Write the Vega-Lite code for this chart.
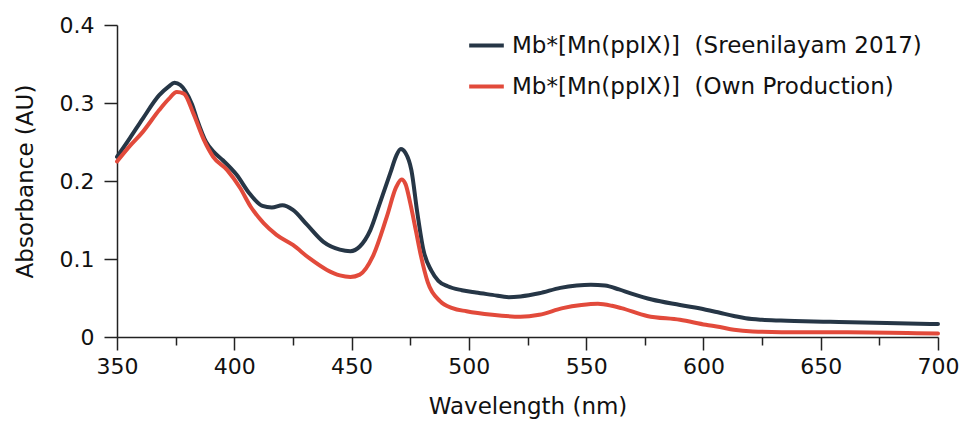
{
  "$schema": "https://vega.github.io/schema/vega-lite/v6.json",
  "autosize": {"type": "none"},
  "width": 821,
  "height": 312,
  "padding": {"left": 117, "top": 25, "right": 22, "bottom": 88},
  "background": "white",
  "config": {
    "view": {"stroke": null},
    "font": "DejaVu Sans",
    "axis": {"labelFont": "DejaVu Sans", "titleFont": "DejaVu Sans", "labelColor": "#111", "titleColor": "#111", "domainColor": "#222", "tickColor": "#222", "domainWidth": 1.5, "tickWidth": 1.5, "grid": false}
  },
  "datasets": {
    "spectra": [
      {"series": "A", "wl": 350, "abs": 0.231},
      {"series": "A", "wl": 355.5, "abs": 0.255},
      {"series": "A", "wl": 361, "abs": 0.280},
      {"series": "A", "wl": 368, "abs": 0.310},
      {"series": "A", "wl": 372, "abs": 0.321},
      {"series": "A", "wl": 374.5, "abs": 0.326},
      {"series": "A", "wl": 377, "abs": 0.323},
      {"series": "A", "wl": 379, "abs": 0.316},
      {"series": "A", "wl": 382, "abs": 0.298},
      {"series": "A", "wl": 384, "abs": 0.280},
      {"series": "A", "wl": 388, "abs": 0.250},
      {"series": "A", "wl": 391, "abs": 0.238},
      {"series": "A", "wl": 395, "abs": 0.227},
      {"series": "A", "wl": 401, "abs": 0.208},
      {"series": "A", "wl": 406.5, "abs": 0.184},
      {"series": "A", "wl": 412, "abs": 0.168},
      {"series": "A", "wl": 416, "abs": 0.166},
      {"series": "A", "wl": 420.5, "abs": 0.169},
      {"series": "A", "wl": 425, "abs": 0.163},
      {"series": "A", "wl": 431, "abs": 0.144},
      {"series": "A", "wl": 438, "abs": 0.122},
      {"series": "A", "wl": 445, "abs": 0.112},
      {"series": "A", "wl": 449.5, "abs": 0.110},
      {"series": "A", "wl": 453.5, "abs": 0.116},
      {"series": "A", "wl": 458, "abs": 0.137},
      {"series": "A", "wl": 462, "abs": 0.171},
      {"series": "A", "wl": 466.5, "abs": 0.210},
      {"series": "A", "wl": 469, "abs": 0.232},
      {"series": "A", "wl": 471, "abs": 0.241},
      {"series": "A", "wl": 473, "abs": 0.236},
      {"series": "A", "wl": 475.5, "abs": 0.214},
      {"series": "A", "wl": 478, "abs": 0.160},
      {"series": "A", "wl": 480.6, "abs": 0.112},
      {"series": "A", "wl": 484, "abs": 0.085},
      {"series": "A", "wl": 487, "abs": 0.072},
      {"series": "A", "wl": 491, "abs": 0.065},
      {"series": "A", "wl": 497, "abs": 0.060},
      {"series": "A", "wl": 503, "abs": 0.057},
      {"series": "A", "wl": 510, "abs": 0.054},
      {"series": "A", "wl": 517, "abs": 0.051},
      {"series": "A", "wl": 522, "abs": 0.052},
      {"series": "A", "wl": 530, "abs": 0.056},
      {"series": "A", "wl": 539, "abs": 0.063},
      {"series": "A", "wl": 546, "abs": 0.066},
      {"series": "A", "wl": 552, "abs": 0.067},
      {"series": "A", "wl": 558, "abs": 0.066},
      {"series": "A", "wl": 564, "abs": 0.061},
      {"series": "A", "wl": 569, "abs": 0.056},
      {"series": "A", "wl": 578, "abs": 0.048},
      {"series": "A", "wl": 590, "abs": 0.041},
      {"series": "A", "wl": 601, "abs": 0.035},
      {"series": "A", "wl": 607, "abs": 0.031},
      {"series": "A", "wl": 613, "abs": 0.027},
      {"series": "A", "wl": 618, "abs": 0.024},
      {"series": "A", "wl": 625, "abs": 0.022},
      {"series": "A", "wl": 633, "abs": 0.021},
      {"series": "A", "wl": 654, "abs": 0.0196},
      {"series": "A", "wl": 678, "abs": 0.018},
      {"series": "A", "wl": 700, "abs": 0.0166},
      {"series": "B", "wl": 350, "abs": 0.225},
      {"series": "B", "wl": 355.5, "abs": 0.245},
      {"series": "B", "wl": 361, "abs": 0.263},
      {"series": "B", "wl": 368, "abs": 0.291},
      {"series": "B", "wl": 372, "abs": 0.305},
      {"series": "B", "wl": 375.5, "abs": 0.314},
      {"series": "B", "wl": 378.5, "abs": 0.312},
      {"series": "B", "wl": 382.5, "abs": 0.287},
      {"series": "B", "wl": 387, "abs": 0.253},
      {"series": "B", "wl": 391, "abs": 0.231},
      {"series": "B", "wl": 397, "abs": 0.214},
      {"series": "B", "wl": 402.5, "abs": 0.191},
      {"series": "B", "wl": 407, "abs": 0.167},
      {"series": "B", "wl": 412.5, "abs": 0.146},
      {"series": "B", "wl": 418, "abs": 0.131},
      {"series": "B", "wl": 425, "abs": 0.118},
      {"series": "B", "wl": 432, "abs": 0.101},
      {"series": "B", "wl": 439.5, "abs": 0.086},
      {"series": "B", "wl": 445, "abs": 0.079},
      {"series": "B", "wl": 449.5, "abs": 0.077},
      {"series": "B", "wl": 453.5, "abs": 0.080},
      {"series": "B", "wl": 459, "abs": 0.103},
      {"series": "B", "wl": 465, "abs": 0.154},
      {"series": "B", "wl": 469, "abs": 0.192},
      {"series": "B", "wl": 471.3, "abs": 0.202},
      {"series": "B", "wl": 473, "abs": 0.196},
      {"series": "B", "wl": 475, "abs": 0.172},
      {"series": "B", "wl": 477.5, "abs": 0.135},
      {"series": "B", "wl": 479.5, "abs": 0.105},
      {"series": "B", "wl": 482.5, "abs": 0.070},
      {"series": "B", "wl": 487.7, "abs": 0.046},
      {"series": "B", "wl": 493, "abs": 0.037},
      {"series": "B", "wl": 499, "abs": 0.033},
      {"series": "B", "wl": 510, "abs": 0.0285},
      {"series": "B", "wl": 522, "abs": 0.026},
      {"series": "B", "wl": 530, "abs": 0.0285},
      {"series": "B", "wl": 540, "abs": 0.037},
      {"series": "B", "wl": 548, "abs": 0.041},
      {"series": "B", "wl": 555, "abs": 0.0426},
      {"series": "B", "wl": 561, "abs": 0.040},
      {"series": "B", "wl": 565, "abs": 0.037},
      {"series": "B", "wl": 576, "abs": 0.027},
      {"series": "B", "wl": 590, "abs": 0.022},
      {"series": "B", "wl": 601, "abs": 0.0157},
      {"series": "B", "wl": 607, "abs": 0.0128},
      {"series": "B", "wl": 613, "abs": 0.0093},
      {"series": "B", "wl": 621, "abs": 0.0072},
      {"series": "B", "wl": 642, "abs": 0.006},
      {"series": "B", "wl": 671, "abs": 0.0059},
      {"series": "B", "wl": 700, "abs": 0.0045}
    ]
  },
  "data": {"name": "spectra"},
  "mark": {"type": "line", "strokeWidth": 4, "interpolate": "monotone", "strokeCap": "round"},
  "encoding": {
    "x": {
      "field": "wl", "type": "quantitative",
      "scale": {"domain": [350, 700], "nice": false, "zero": false},
      "axis": {
        "title": "Wavelength (nm)", "titleFontSize": 23, "titleFontWeight": "normal", "titlePadding": 18,
        "values": [350, 375, 400, 425, 450, 475, 500, 525, 550, 575, 600, 625, 650, 675, 700],
        "labelExpr": "datum.value % 50 === 0 ? datum.label : ''",
        "labelFontSize": 22, "labelPadding": 6,
        "tickSize": {"condition": {"test": "datum.value % 50 === 0", "value": 13}, "value": 8},
        "labelFlush": false, "labelOverlap": false
      }
    },
    "y": {
      "field": "abs", "type": "quantitative",
      "scale": {"domain": [0, 0.4], "nice": false},
      "axis": {
        "title": "Absorbance (AU)", "titleFontSize": 23, "titleFontWeight": "normal", "titlePadding": 22,
        "values": [0, 0.1, 0.2, 0.3, 0.4],
        "labelExpr": "datum.value === 0 ? '0' : format(datum.value, '.1f')",
        "labelFontSize": 22, "labelPadding": 10, "tickSize": 13, "labelFlush": false
      }
    },
    "color": {
      "field": "series", "type": "nominal",
      "scale": {"domain": ["A", "B"], "range": ["#263646", "#e24a3b"]},
      "legend": {
        "orient": "none", "legendX": 350, "legendY": 1,
        "title": null, "symbolType": "stroke", "symbolSize": 1200, "symbolStrokeWidth": 4,
        "labelFontSize": 23, "labelFont": "DejaVu Sans", "labelColor": "#111", "labelOffset": 6, "rowPadding": 9,
        "labelExpr": "datum.value === 'A' ? 'Mb*[Mn(ppIX)]\u00a0 (Sreenilayam 2017)' : 'Mb*[Mn(ppIX)]\u00a0 (Own Production)'",
        "labelLimit": 600
      }
    }
  }
}
